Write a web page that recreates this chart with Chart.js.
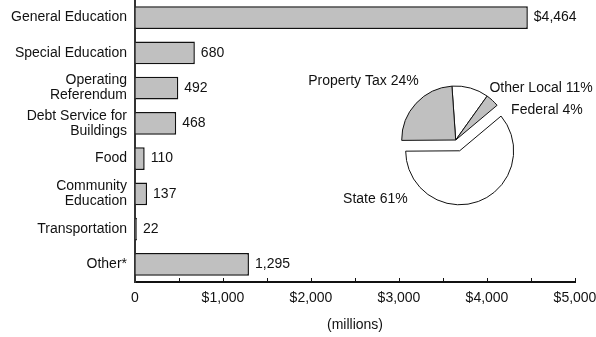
<!DOCTYPE html>
<html>
<head>
<meta charset="utf-8">
<script src="https://cdn.jsdelivr.net/npm/chart.js@4"></script>
<style>
  body { margin: 0; background: #fff; }
  #wrap { position: relative; width: 596px; height: 337px; }
  #wrap canvas { position: absolute; left: 0; top: 0; }
  #pieChart { pointer-events: none; }
</style>
</head>
<body>
<div id="wrap">
  <canvas id="barChart" width="596" height="337"></canvas>
  <canvas id="pieChart" width="596" height="337"></canvas>
</div>
<script>
// Spending by program (millions)
const categories = [
  "General Education",
  "Special Education",
  ["Operating", "Referendum"],
  ["Debt Service for", "Buildings"],
  "Food",
  ["Community", "Education"],
  "Transportation",
  "Other*"
];
const spending = [4464, 680, 492, 468, 110, 137, 22, 1295];

// x axis: 0 to $5,000, labels every 1,000, small ticks every 500
const xMax = 5000;
const xStep = 500;
const xLabelEvery = 1000;

// Revenue sources (percent), clockwise from the top
const revenueLabels = ["Other Local", "Federal", "State", "Property Tax"];
const revenueShares = [11, 4, 61, 24];
const revenueColors = ["#ffffff", "#c0c0c0", "#ffffff", "#c0c0c0"];
const revenueExplode = [0, 0, 11.5, 0];   // State slice pulled out

const FONT = "'Liberation Sans', Arial, sans-serif";
const FONT_SIZE = 14;
Chart.defaults.font.family = FONT;
Chart.defaults.font.size = FONT_SIZE;
Chart.defaults.color = "#111";

function money(v) {
  return v.toLocaleString("en-US");
}

// Value labels to the right of each bar
const barValues = {
  id: "barValues",
  afterDatasetsDraw(chart) {
    const ctx = chart.ctx;
    const bars = chart.getDatasetMeta(0).data;
    ctx.save();
    ctx.font = FONT_SIZE + "px " + FONT;
    ctx.fillStyle = "#111";
    ctx.textAlign = "left";
    ctx.textBaseline = "middle";
    bars.forEach((bar, i) => {
      const txt = (i === 0 ? "$" : "") + money(spending[i]);
      ctx.fillText(txt, bar.x + 6, bar.y);
    });
    ctx.restore();
  }
};

new Chart(document.getElementById("barChart"), {
  type: "bar",
  data: {
    labels: categories,
    datasets: [{
      data: spending,
      backgroundColor: "#c0c0c0",
      borderColor: "#111",
      borderWidth: 1.5,
      barPercentage: 0.65,
      categoryPercentage: 1
    }]
  },
  options: {
    indexAxis: "y",
    responsive: false,
    animation: false,
    layout: { padding: { top: 0, right: 21, bottom: 0, left: 0 } },
    plugins: {
      legend: { display: false },
      tooltip: { enabled: false }
    },
    scales: {
      x: {
        min: 0,
        max: xMax,
        afterBuildTicks(scale) {
          const t = [];
          for (let v = 0; v <= xMax; v += xStep) t.push({ value: v });
          scale.ticks = t;
        },
        ticks: {
          autoSkip: false,
          maxRotation: 0,
          padding: 12,
          color: "#111",
          callback: v => v % xLabelEvery ? "" : (v === 0 ? "0" : "$" + money(v))
        },
        grid: {
          drawOnChartArea: false,
          drawTicks: true,
          tickLength: -4,
          tickColor: "#111",
          tickWidth: 1
        },
        border: { display: true, color: "#111", width: 2 },
        title: {
          display: true,
          text: "(millions)",
          color: "#111",
          font: { size: FONT_SIZE },
          padding: { top: 0, bottom: 3 }
        },
        afterFit(scale) {
          scale.height = 55;
          scale.paddingLeft = 0;
          scale.paddingRight = 0;
        }
      },
      y: {
        ticks: {
          autoSkip: false,
          padding: 8,
          color: "#111",
          font: { size: FONT_SIZE, lineHeight: 1.07 }
        },
        grid: { drawOnChartArea: false, drawTicks: false },
        border: { display: true, color: "#333", width: 2 },
        afterFit(scale) {
          scale.width = 135;
          scale.paddingTop = 0;
          scale.paddingBottom = 0;
        }
      }
    }
  },
  plugins: [barValues]
});

// Pull slices out along their middle angle without growing them
const explodeSlices = {
  id: "explodeSlices",
  afterDatasetsUpdate(chart) {
    chart.getDatasetMeta(0).data.forEach((arc, i) => {
      const d = revenueExplode[i];
      if (!d) return;
      const mid = (arc.startAngle + arc.endAngle) / 2;
      arc.x += Math.cos(mid) * d;
      arc.y += Math.sin(mid) * d;
    });
  }
};

// Labels around the pie, placed from its centre
const pieLabelSpots = [
  { dx: 137, dy: -52, align: "right" },  // Other Local
  { dx: 127, dy: -30, align: "right" },  // Federal
  { dx: -48, dy: 59, align: "right" },   // State
  { dx: -37, dy: -59, align: "right" }   // Property Tax
];

const pieLabels = {
  id: "pieLabels",
  afterDraw(chart) {
    const ctx = chart.ctx;
    const area = chart.chartArea;
    const cx = (area.left + area.right) / 2;
    const cy = (area.top + area.bottom) / 2;
    ctx.save();
    ctx.font = FONT_SIZE + "px " + FONT;
    ctx.fillStyle = "#111";
    ctx.textBaseline = "middle";
    revenueLabels.forEach((name, i) => {
      const s = pieLabelSpots[i];
      ctx.textAlign = s.align;
      ctx.fillText(name + " " + revenueShares[i] + "%", cx + s.dx, cy + s.dy);
    });
    ctx.restore();
  }
};

new Chart(document.getElementById("pieChart"), {
  type: "pie",
  data: {
    labels: revenueLabels,
    datasets: [{
      data: revenueShares,
      backgroundColor: revenueColors,
      borderColor: "#111",
      borderWidth: 1
    }]
  },
  options: {
    responsive: false,
    animation: false,
    rotation: -4,
    radius: 54,
    layout: { padding: { left: 400, right: 84.6, top: 85, bottom: 142 } },
    plugins: {
      legend: { display: false },
      tooltip: { enabled: false }
    }
  },
  plugins: [explodeSlices, pieLabels]
});
</script>
</body>
</html>
